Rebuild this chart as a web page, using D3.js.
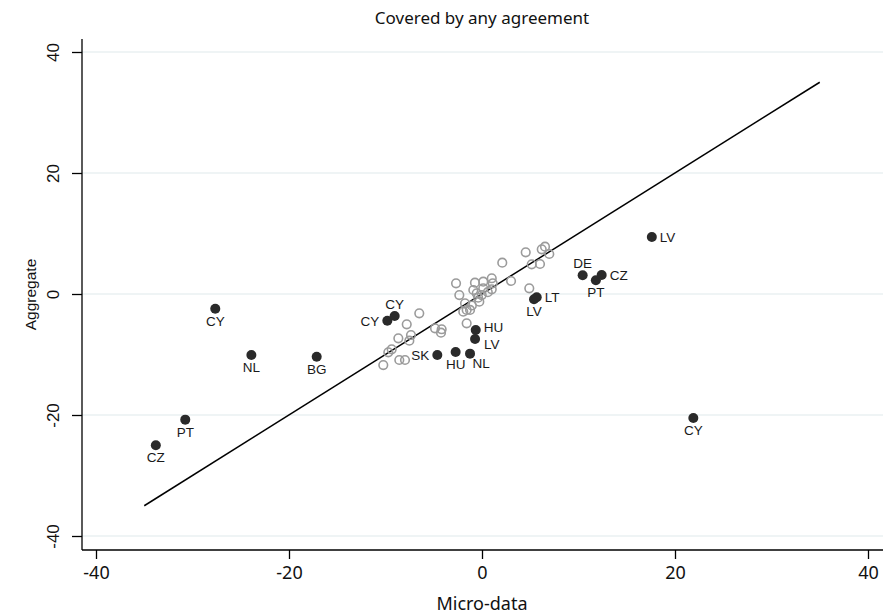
<!DOCTYPE html>
<html><head><meta charset="utf-8">
<script src="https://cdn.jsdelivr.net/npm/d3@7"></script>
<style>body{margin:0;background:#fff}</style>
</head><body>
<svg id="c" width="883" height="616"></svg>
<script>
const title = "Covered by any agreement";
const xLabel = "Micro-data";
const yLabel = "Aggregate";
const xTicks = [-40, -20, 0, 20, 40];
const yTicks = [-40, -20, 0, 20, 40];
const lineEnds = [-35, 35];

// labelled (filled) observations
const labCountry = ["CZ","PT","CY","NL","BG","CY","CY","SK","HU","NL","HU","LV","LV","LT","DE","PT","CZ","LV","CY"];
const labX = [-33.8,-30.75,-27.64,-23.9,-17.13,-9.81,-9.05,-4.63,-2.73,-1.24,-0.65,-0.72,5.39,5.67,10.43,11.8,12.4,17.6,21.9];
const labY = [-25.0,-20.77,-2.43,-10.08,-10.36,-4.41,-3.64,-10.08,-9.59,-9.86,-5.95,-7.44,-0.88,-0.55,3.09,2.26,3.14,9.42,-20.5];
const labClock = [6,6,6,6,6,9,12,9,6,5,2,4,6,3,12,6,3,3,6];

// unlabelled (hollow) observations
const hollowX = [-10.23,-9.36,-9.71,-8.67,-7.80,-8.57,-7.98,-7.53,-7.36,-6.50,-4.87,-4.18,-4.25,-2.69,-2.35,-1.59,-1.76,-1.59,-1.94,-1.24,-0.90,-0.73,-0.55,-0.03,-0.28,0.13,0.13,1.01,1.11,1.01,2.10,3.01,4.53,5.15,4.90,6.01,6.19,6.53,6.97,-1.05,-0.40,0.60];
const hollowY = [-11.74,-9.14,-9.64,-7.32,-5.01,-10.91,-10.91,-7.72,-6.78,-3.19,-5.67,-5.83,-6.40,1.77,-0.17,-4.84,-1.54,-2.64,-2.93,-2.64,0.66,1.87,0.12,-0.17,-1.27,0.94,2.03,2.60,1.77,0.78,5.17,2.15,6.89,4.91,0.94,4.96,7.39,7.82,6.61,-1.9,-0.6,0.3];

const svg = d3.select("#c");
const x = d3.scaleLinear().domain([-40, 40]).range([96, 868]);
const y = d3.scaleLinear().domain([-40, 40]).range([536, 52]);
const pLeft = 82, pBottom = 550, pTop = 39, pRight = 883;

// grid
svg.append("g").selectAll("line").data(yTicks).join("line")
  .attr("x1", pLeft).attr("x2", pRight)
  .attr("y1", d => y(d)).attr("y2", d => y(d))
  .attr("stroke", "#eaf0f2").attr("stroke-width", 1.6);

// axes
const xAxis = d3.axisBottom(x).tickValues(xTicks).tickSize(9).tickPadding(7).tickFormat(d3.format("d"));
const gx = svg.append("g").attr("transform", `translate(0,${pBottom})`).call(xAxis);
gx.select(".domain").attr("d", `M${pLeft},0H${pRight}`).attr("stroke", "#000").attr("stroke-width", 1.3);
gx.selectAll(".tick line").attr("stroke", "#000").attr("stroke-width", 1.3);
gx.selectAll(".tick text").attr("font-family", "'Noto Sans', sans-serif").attr("font-size", 18).attr("fill", "#111")
  .text(d => d < 0 ? "-" + Math.abs(d) : d);

const yAxis = d3.axisLeft(y).tickValues(yTicks).tickSize(10).tickPadding(0);
const gy = svg.append("g").attr("transform", `translate(${pLeft},0)`).call(yAxis);
gy.select(".domain").attr("d", `M0,${pTop}V${pBottom}`).attr("stroke", "#000").attr("stroke-width", 1.3);
gy.selectAll(".tick line").attr("stroke", "#000").attr("stroke-width", 1.3);
gy.selectAll(".tick text").attr("font-family", "'Liberation Sans', Arial, sans-serif").attr("font-size", 17).attr("fill", "#111")
  .attr("text-anchor", "middle").attr("dy", 0).attr("x", 0)
  .attr("transform", "translate(-23,0) rotate(-90)")
  .text(d => d < 0 ? "-" + Math.abs(d) : d);

// reference line
svg.append("line")
  .attr("x1", x(lineEnds[0])).attr("y1", y(lineEnds[0]))
  .attr("x2", x(lineEnds[1])).attr("y2", y(lineEnds[1]))
  .attr("stroke", "#000").attr("stroke-width", 1.5);

// hollow points
svg.append("g").selectAll("circle").data(d3.range(hollowX.length)).join("circle")
  .attr("cx", i => x(hollowX[i])).attr("cy", i => y(hollowY[i])).attr("r", 4.3)
  .attr("fill", "none").attr("stroke", "#9b9b9b").attr("stroke-width", 1.6);

// filled points
svg.append("g").selectAll("circle").data(d3.range(labX.length)).join("circle")
  .attr("cx", i => x(labX[i])).attr("cy", i => y(labY[i])).attr("r", 5)
  .attr("fill", "#2a2a2a");

// labels
const clockOff = {
  6: {dx: 0, dy: 17, a: "middle"},
  12: {dx: 0, dy: -7, a: "middle"},
  3: {dx: 8, dy: 5, a: "start"},
  9: {dx: -8, dy: 5, a: "end"},
  5: {dx: 11, dy: 14, a: "middle"},
  2: {dx: 8, dy: 2, a: "start"},
  4: {dx: 9, dy: 10, a: "start"}
};
svg.append("g").selectAll("text").data(d3.range(labX.length)).join("text")
  .attr("x", i => x(labX[i]) + clockOff[labClock[i]].dx)
  .attr("y", i => y(labY[i]) + clockOff[labClock[i]].dy)
  .attr("text-anchor", i => clockOff[labClock[i]].a)
  .attr("font-family", "'Liberation Sans', Arial, sans-serif").attr("font-size", 13.5).attr("fill", "#1a1a1a")
  .text(i => labCountry[i]);

// titles
svg.append("text").attr("x", 482).attr("y", 24).attr("text-anchor", "middle")
  .attr("font-family", "'Noto Sans', sans-serif").attr("font-size", 17).attr("fill", "#111").text(title);
svg.append("text").attr("x", 482).attr("y", 610).attr("text-anchor", "middle")
  .attr("font-family", "'Noto Sans', sans-serif").attr("font-size", 18).attr("fill", "#111").text(xLabel);
svg.append("text").attr("transform", `translate(36,${(pTop + pBottom) / 2}) rotate(-90)`).attr("text-anchor", "middle")
  .attr("font-family", "'Liberation Sans', Arial, sans-serif").attr("font-size", 15.5).attr("fill", "#111").text(yLabel);
</script>
</body></html>
